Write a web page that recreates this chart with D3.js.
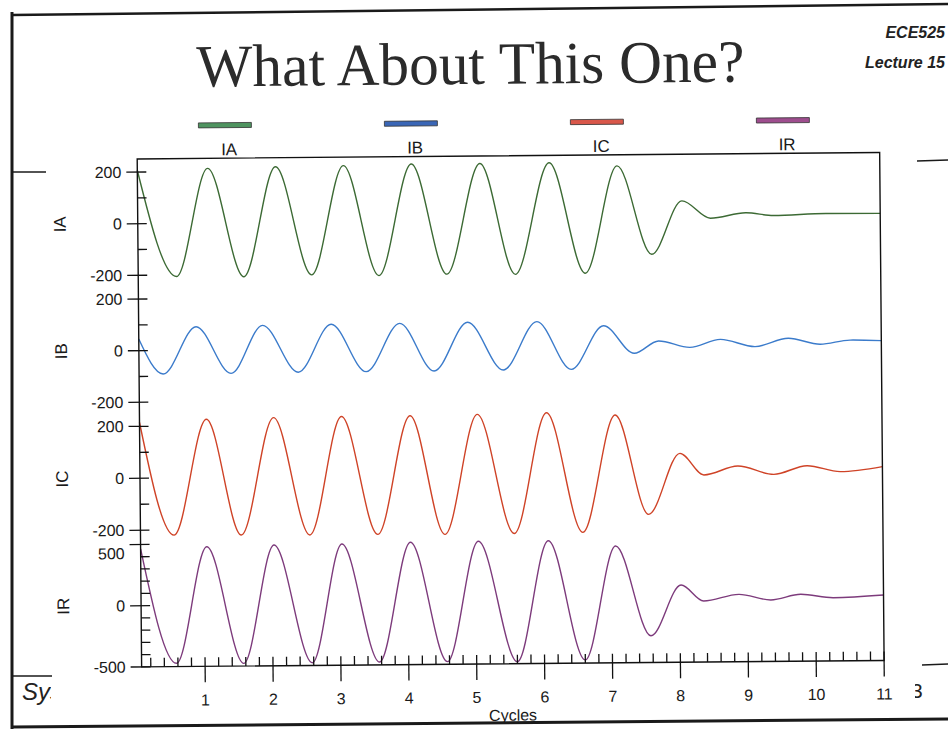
<!DOCTYPE html>
<html>
<head>
<meta charset="utf-8">
<script src="https://cdnjs.cloudflare.com/ajax/libs/d3/7.8.5/d3.min.js"></script>
<style>
  body { margin: 0; background: #fff; }
  svg { display: block; font-family: "Liberation Sans", Arial, sans-serif; }
</style>
</head>
<body>
<svg id="chart"></svg>
<script>
const width = 948;
const height = 729;

// series names
const names = ["IA", "IB", "IC", "IR"];

// extrema (time in cycles, value in A)
const cyclesIA = [0.065, 0.63, 1.10, 1.62, 2.10, 2.62, 3.10, 3.61, 4.10, 4.61, 5.11, 5.62, 6.13, 6.65, 7.13, 7.63, 8.08, 8.50, 9.02, 9.43, 10.2, 11.0];
const valuesIA = [207, -206, 212, -209, 216, -204, 218, -209, 222, -206, 222, -209, 222, -207, 208, -136, 70, 2, 22, 10, 16, 15];

const cyclesIB = [0.065, 0.42, 0.91, 1.42, 1.89, 2.41, 2.90, 3.41, 3.91, 4.41, 4.91, 5.43, 5.93, 6.43, 6.91, 7.36, 7.72, 8.18, 8.63, 9.14, 9.63, 10.10, 10.54, 11.0];
const valuesIB = [45, -91, 91, -91, 94, -89, 96, -89, 97, -89, 99, -87, 99, -87, 81, -27, 20, -6, 24, -5, 26, 2, 17, 14];

const cyclesIC = [0.065, 0.56, 1.05, 1.55, 2.04, 2.56, 3.04, 3.56, 4.05, 4.55, 5.04, 5.57, 6.06, 6.58, 7.07, 7.55, 8.02, 8.37, 8.87, 9.40, 9.89, 10.38, 11.0];
const valuesIC = [215, -220, 225, -222, 229, -224, 231, -224, 232, -226, 235, -225, 239, -223, 228, -156, 78, -6, 27, -6, 26, 2, 20];

const cyclesIR = [0.065, 0.58, 1.04, 1.57, 2.03, 2.58, 3.03, 3.57, 4.04, 4.57, 5.04, 5.60, 6.07, 6.60, 7.06, 7.57, 8.02, 8.35, 8.87, 9.34, 9.78, 10.26, 11.0];
const valuesIR = [465, -473, 477, -478, 486, -478, 490, -477, 499, -479, 502, -484, 502, -475, 454, -282, 130, -2, 50, 2, 46, 16, 34];

// axis domains and ticks
const domainIA = [-245, 251];
const domainIB = [-247, 247];
const domainIC = [-245, 246];
const domainIR = [-500, 521];
const majorSmall = [-200, 0, 200];
const minorSmall = [-100, 100];
const majorIR = [-500, 0, 500];
const minorIR = [-400, -300, -200, -100, 100, 200, 300, 400];
const xTickValues = [1, 2, 3, 4, 5, 6, 7, 8, 9, 10, 11];
const xTickLabels = ["1", "2", "3", "4", "5", "6", "7", "8", "9", "10", "11"];

const curveColor = d3.scaleOrdinal()
  .domain(names)
  .range(["#3c6a34", "#3b7bcb", "#cf4327", "#7d3b7c"]);

const swatchColor = d3.scaleOrdinal()
  .domain(names)
  .range(["#4f9460", "#3a66b6", "#d9574a", "#9e4d8e"]);

const panels = [
  { name: "IA", t: cyclesIA, v: valuesIA, domain: domainIA, major: majorSmall, minor: minorSmall },
  { name: "IB", t: cyclesIB, v: valuesIB, domain: domainIB, major: majorSmall, minor: minorSmall },
  { name: "IC", t: cyclesIC, v: valuesIC, domain: domainIC, major: majorSmall, minor: minorSmall },
  { name: "IR", t: cyclesIR, v: valuesIR, domain: domainIR, major: majorIR, minor: minorIR }
];

// layout
const plotLeft = 139, plotRight = 881.5, plotTop = 156, plotBottom = 664;
const bands = [156, 284, 411.5, 539, 664];

const x = d3.scaleLinear()
  .domain([0.065, 11])
  .range([plotLeft, plotRight]);

panels.forEach((p, i) => {
  p.y = d3.scaleLinear().domain(p.domain).range([bands[i + 1], bands[i]]);
});

const svg = d3.select("#chart")
  .attr("width", width)
  .attr("height", height);

svg.append("rect").attr("width", width).attr("height", height).attr("fill", "#fff");

// slide furniture behind the pasted chart
const slide = svg.append("g");
slide.append("text")
  .attr("x", 22).attr("y", 700)
  .style("font-size", "24px").style("font-style", "italic")
  .attr("fill", "#222")
  .text("System");
slide.append("text")
  .attr("x", 911).attr("y", 698)
  .style("font-size", "21px")
  .attr("fill", "#222")
  .text("3");

// white box of the pasted chart image
svg.append("rect")
  .attr("x", 51).attr("y", 95)
  .attr("width", 864).attr("height", 621)
  .attr("fill", "#fff");

// frame lines of the slide
const frame = [
  [12, 12, 12, 729, 3],
  [12, 15, 948, 4, 2.5],
  [12, 727, 948, 719, 3],
  [12, 172, 46, 172, 1.5],
  [917, 161, 948, 160, 1.5],
  [12, 676, 52, 676, 1.5],
  [922, 665, 948, 664, 1.5]
];
svg.append("g")
  .selectAll("line")
  .data(frame)
  .join("line")
  .attr("x1", d => d[0]).attr("y1", d => d[1])
  .attr("x2", d => d[2]).attr("y2", d => d[3])
  .attr("stroke", "#1a1a1a")
  .attr("stroke-width", d => d[4]);

svg.append("text")
  .attr("x", 945).attr("y", 38)
  .attr("text-anchor", "end")
  .style("font-size", "16px").style("font-weight", "bold").style("font-style", "italic")
  .attr("fill", "#222")
  .text("ECE525");
svg.append("text")
  .attr("x", 945).attr("y", 68)
  .attr("text-anchor", "end")
  .style("font-size", "16px").style("font-weight", "bold").style("font-style", "italic")
  .attr("fill", "#222")
  .text("Lecture 15");

// the scan is slightly tilted
const g = svg.append("g")
  .attr("transform", "rotate(-0.5 474 364)");

g.append("text")
  .attr("x", 473).attr("y", 84)
  .attr("text-anchor", "middle")
  .attr("textLength", 548)
  .attr("lengthAdjust", "spacingAndGlyphs")
  .style("font-family", "'Liberation Serif', 'DejaVu Serif', serif")
  .style("font-size", "60px")
  .attr("fill", "#2b2b2b")
  .text("What About This One?");

// legend
const legend = g.append("g")
  .selectAll("g")
  .data(names)
  .join("g")
  .attr("transform", (d, i) => `translate(${227 + i * 186},123)`);

legend.append("rect")
  .attr("x", -26.5).attr("y", -2.5)
  .attr("width", 53).attr("height", 5)
  .attr("fill", d => swatchColor(d))
  .attr("stroke", "#333")
  .attr("stroke-width", 0.8);

legend.append("text")
  .attr("x", 4).attr("y", 30)
  .attr("text-anchor", "middle")
  .style("font-size", "17px")
  .attr("fill", "#1a1a1a")
  .text(d => d);

// curves
const plot = g.append("g");

panels.forEach(p => {
  const pts = p.t.map((t, i) => [t, p.v[i]]);
  const line = d3.line()
    .x(d => x(d[0]))
    .y(d => p.y(d[1]))
    .curve(d3.curveMonotoneX);
  plot.append("path")
    .datum(pts)
    .attr("d", line)
    .attr("fill", "none")
    .attr("stroke", curveColor(p.name))
    .attr("stroke-width", 1.4);
});

// plot frame
g.append("rect")
  .attr("x", plotLeft).attr("y", plotTop)
  .attr("width", plotRight - plotLeft)
  .attr("height", plotBottom - plotTop)
  .attr("fill", "none")
  .attr("stroke", "#111")
  .attr("stroke-width", 1.4);

// y axes
const yAxis = g.append("g").attr("stroke", "#111").attr("stroke-width", 1.3);

panels.forEach((p, i) => {
  yAxis.selectAll(null)
    .data(p.major)
    .join("line")
    .attr("x1", plotLeft - 11).attr("x2", plotLeft + 9)
    .attr("y1", d => p.y(d)).attr("y2", d => p.y(d));

  yAxis.selectAll(null)
    .data(p.minor)
    .join("line")
    .attr("x1", plotLeft).attr("x2", plotLeft + 9)
    .attr("y1", d => p.y(d)).attr("y2", d => p.y(d));

  g.append("g")
    .selectAll("text")
    .data(p.major)
    .join("text")
    .attr("x", plotLeft - 16)
    .attr("y", d => p.y(d) + (p.name === "IR" && d === 500 ? 9 : 0))
    .attr("dy", "0.35em")
    .attr("text-anchor", "end")
    .style("font-size", "16px")
    .attr("fill", "#1a1a1a")
    .text(d => d);

  g.append("text")
    .attr("transform", `translate(67,${p.y(0)}) rotate(-90)`)
    .attr("text-anchor", "middle")
    .style("font-size", "17px")
    .attr("fill", "#1a1a1a")
    .text(p.name);
});

// x axis
const minorX = d3.range(1, 55).map(i => i / 5).filter(v => Math.abs(v - Math.round(v)) > 1e-6);

yAxis.selectAll(null)
  .data(minorX)
  .join("line")
  .attr("x1", d => x(d)).attr("x2", d => x(d))
  .attr("y1", plotBottom - 9).attr("y2", plotBottom);

yAxis.selectAll(null)
  .data(xTickValues)
  .join("line")
  .attr("x1", d => x(d)).attr("x2", d => x(d))
  .attr("y1", plotBottom - 9).attr("y2", plotBottom + 16);

g.append("g")
  .selectAll("text")
  .data(xTickValues)
  .join("text")
  .attr("x", d => x(d))
  .attr("y", plotBottom + 39)
  .attr("text-anchor", "middle")
  .style("font-size", "16px")
  .attr("fill", "#1a1a1a")
  .text((d, i) => xTickLabels[i]);

g.append("text")
  .attr("x", 510).attr("y", 721)
  .attr("text-anchor", "middle")
  .style("font-size", "16px")
  .attr("fill", "#1a1a1a")
  .text("Cycles");
</script>
</body>
</html>
